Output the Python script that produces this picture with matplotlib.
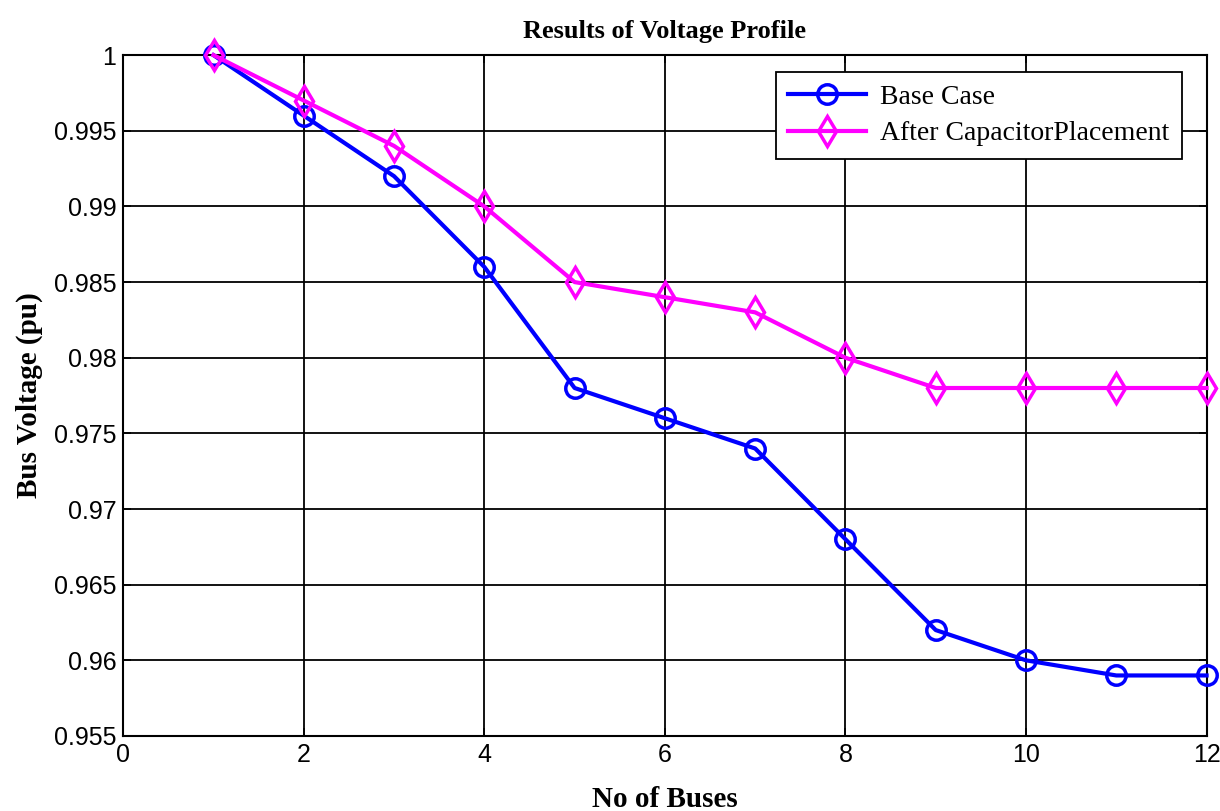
import matplotlib
matplotlib.use("Agg")
import matplotlib.pyplot as plt
import numpy as np

# bus numbers and voltages (pu)
buses = [1, 2, 3, 4, 5, 6, 7, 8, 9, 10, 11, 12]
base_case = [1.000, 0.996, 0.992, 0.986, 0.978, 0.976, 0.974, 0.968, 0.962, 0.960, 0.959, 0.959]
after_cap = [1.000, 0.997, 0.994, 0.990, 0.985, 0.984, 0.983, 0.980, 0.978, 0.978, 0.978, 0.978]

xticks = [0, 2, 4, 6, 8, 10, 12]
yticks = [0.955, 0.96, 0.965, 0.97, 0.975, 0.98, 0.985, 0.99, 0.995, 1.0]
ytick_labels = ['0.955', '0.96', '0.965', '0.97', '0.975', '0.98', '0.985', '0.99', '0.995', '1']

fig = plt.figure(figsize=[12.2, 8.11], dpi=100)
ax = fig.add_axes([0.101, 0.0925, 0.888, 0.8395])

ax.plot(buses, base_case, color='#0000ff', lw=3, marker='o', ms=14,
        mfc='none', mew=2.5, label='Base Case', zorder=3, clip_on=False)
ax.plot(buses, after_cap, color='#ff00ff', lw=3, marker='d', ms=15,
        mfc='none', mew=2.5, label='After CapacitorPlacement', zorder=3, clip_on=False)

ax.set_xlim(0, 12)
ax.set_ylim(0.955, 1.0)
ax.set_xticks(xticks)
ax.set_yticks(yticks)
ax.set_yticklabels(ytick_labels)
ax.tick_params(direction='in', top=True, right=True, length=6, width=1.2,
               labelsize=18, pad=5)
for lab in ax.get_xticklabels() + ax.get_yticklabels():
    lab.set_fontfamily('Liberation Sans')

ax.grid(True, color='black', lw=1.3, ls='-')
ax.set_axisbelow(True)
for s in ax.spines.values():
    s.set_linewidth(1.5)

serif = 'Liberation Serif'
ax.set_title('Results of Voltage Profile', fontfamily=serif, fontweight='bold',
             fontsize=19, pad=12)
ax.set_xlabel('No of Buses', fontfamily=serif, fontweight='bold', fontsize=21, labelpad=14)
ax.set_ylabel('Bus Voltage (pu)', fontfamily=serif, fontweight='bold', fontsize=21, labelpad=8)

leg = ax.legend(loc='upper right', bbox_to_anchor=(0.99, 0.996),
                prop={'family': serif, 'size': 20}, fancybox=False,
                framealpha=1, edgecolor='black', handlelength=2.8,
                borderpad=0.45, labelspacing=0.4, handletextpad=0.5)
leg.get_frame().set_linewidth(1.3)

plt.savefig("out.png", dpi=100)
